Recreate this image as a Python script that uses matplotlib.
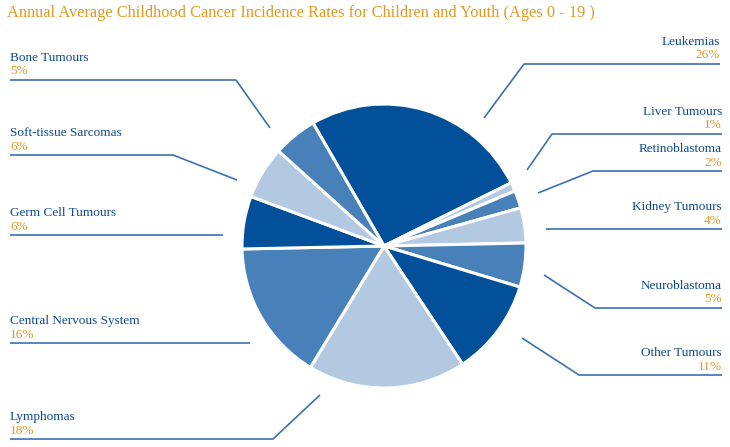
import matplotlib
matplotlib.use("Agg")
import matplotlib.pyplot as plt

# ---- data ----
categories = ["Leukemias", "Liver Tumours", "Retinoblastoma", "Kidney Tumours",
              "Neuroblastoma", "Other Tumours", "Lymphomas", "Central Nervous System",
              "Germ Cell Tumours", "Soft-tissue Sarcomas", "Bone Tumours"]
values = [26, 1, 2, 4, 5, 11, 18, 16, 6, 6, 5]
title = "Annual Average Childhood Cancer Incidence Rates for Children and Youth (Ages 0 - 19 )"

# ---- styles ----
DARK, MED, LIGHT = "#02509a", "#4880ba", "#b3c9e2"
colors = [DARK, LIGHT, MED, LIGHT, MED, DARK, LIGHT, MED, DARK, LIGHT, MED]
TXT_BLUE = "#0d4a8f"
TXT_ORANGE = "#e09a22"
LINE_C = "#3b70b0"
FONT = ["Liberation Serif", "DejaVu Serif"]

W, H = 730, 447
# label layout in pixel coords (top-left origin): side, line y, x outer end, elbow x, tip (x, y) or None
layout = {
    "Leukemias":              ("R", 64, 720, 524, (484, 118)),
    "Liver Tumours":          ("R", 134, 722, 552, (527, 170)),
    "Retinoblastoma":         ("R", 171, 722, 593, (538, 193)),
    "Kidney Tumours":         ("R", 229, 722, 546, None),
    "Neuroblastoma":          ("R", 308, 722, 595, (544, 275)),
    "Other Tumours":          ("R", 375, 722, 579, (522, 338)),
    "Lymphomas":              ("L", 439, 10, 273, (320, 395)),
    "Central Nervous System": ("L", 343, 10, 250, None),
    "Germ Cell Tumours":      ("L", 235, 10, 223, None),
    "Soft-tissue Sarcomas":   ("L", 155, 10, 173, (237, 180)),
    "Bone Tumours":           ("L", 80, 10, 236, (270, 128)),
}

fig = plt.figure(figsize=(W / 100, H / 100), dpi=100)
ax = fig.add_axes([0, 0, 1, 1])

def Y(y):
    return H - y

ax.pie(values, colors=colors, startangle=120, counterclock=False,
       center=(384, Y(246)), radius=142,
       wedgeprops=dict(edgecolor="white", linewidth=2.2))

for name, val in zip(categories, values):
    side, ly, xo, xe, tip = layout[name]
    xs = [xo, xe]
    ys = [Y(ly), Y(ly)]
    if tip is not None:
        xs.append(tip[0])
        ys.append(Y(tip[1]))
    ax.plot(xs, ys, color=LINE_C, lw=1.2, solid_capstyle="butt")
    ha = "left" if side == "L" else "right"
    ax.text(xo, Y(ly - 22), name, ha=ha, va="center", fontsize=9.5,
            color=TXT_BLUE, family=FONT)
    ax.text(xo, Y(ly - 8.5), f"{val}%", ha=ha, va="center", fontsize=9.5,
            color=TXT_ORANGE, family=FONT)

ax.text(7, Y(13), title, ha="left", va="center", fontsize=11.8,
        color=TXT_ORANGE, family=FONT)

ax.set_xlim(0, W)
ax.set_ylim(0, H)
ax.set_aspect("auto")
ax.axis("off")

fig.savefig("out.png", dpi=100)
